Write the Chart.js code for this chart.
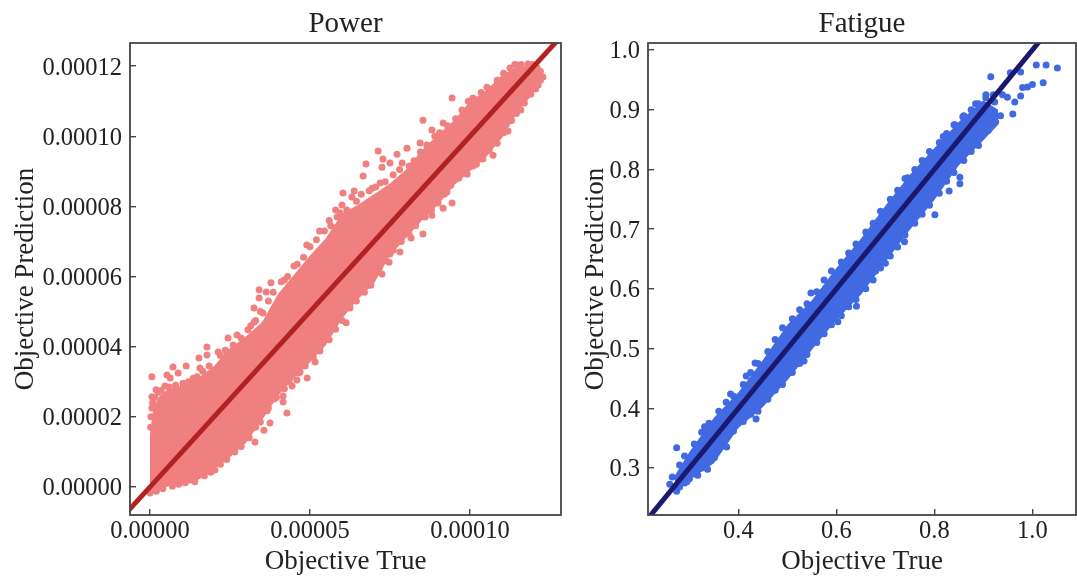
<!DOCTYPE html>
<html>
<head>
<meta charset="utf-8">
<script src="https://cdn.jsdelivr.net/npm/chart.js@4"></script>
<style>
html,body{margin:0;padding:0;background:#fff;overflow:hidden;width:1077px;height:581px}
canvas{position:absolute;top:0}
</style>
</head>
<body>
<canvas id="left" width="570" height="581" style="left:0;width:570px;height:581px"></canvas>
<canvas id="right" width="510" height="581" style="left:570px;width:510px;height:581px"></canvas>
<script>
// Power panel, values in units of 1e-5
const POWER_UNIT = 1e-5;
const powerBandX = [0,0.1,0.3,0.5,1,1.5,2,2.5,3,3.5,4,4.5,5,5.5,6,6.5,7,7.5,8,8.5,9,9.5,10,10.5,11,11.5,12,12.3];
const powerBandHigh = [1.5,2.25,2.6,2.75,2.9,3.1,3.45,3.95,4.3,4.7,5.5,6.05,6.6,7.1,7.8,8.05,8.35,8.65,9.05,9.6,10.05,10.45,11.0,11.3,11.75,12.0,12.0,11.75];
const powerBandLow = [-0.08,-0.1,-0.1,0,0.1,0.2,0.5,0.85,1.25,1.9,2.6,3.1,3.55,4.05,4.8,5.35,5.8,6.6,7.1,7.6,8.05,8.6,9.0,9.4,9.95,10.7,11.25,11.7];
const powerOuterTrue = [0.06,0.06,0.06,0.19,0.47,0.72,1.13,0.88,0.53,0.63,1.03,1.47,1.53,1.78,1.78,1.56,2.13,2.41,2.44,2.72,3.06,3.25,3.25,3.41,3.41,3.78,3.63,3.53,
0,1.25,2.03,2.38,3.28,3.56,3.75,3.38,4.28,3.66,4.16,4.16,3.88,4.91,5.16,4.44,4.59,5.31,4.69,5.41,6.13,2.72,2.97,
9.44,8.53,8.03,7.13,7.72,6.75,7.28,7.5,6.66,7.25,7.88,6.03,6.38,6.31,6.0,5.94,6.94,7.19,8.44,9.16,8.81,
9.44,8.81,9.16,9.28,8.53,8.16,7.81,7.5,7.47,7.25,7.03,11.19,11.59,10.72,10.09,9.91,9.53,12.28,12.13,11.47,11.81,10.53,10.09,
4.2,4.5,4.9,5.3,5.6,5.8];
const powerOuterPred = [3.14,2.57,2.25,2.77,2.88,3.42,3.45,3.25,3.19,3.11,2.96,3.14,3.68,3.99,3.76,3.39,3.85,3.85,4.25,4.33,4.48,5.10,4.70,5.62,5.39,5.82,5.56,4.96,
-0.17,0.2,0.48,0.8,1.28,1.62,1.82,1.91,2.11,2.17,2.42,2.59,2.51,3.11,3.56,2.88,3.05,3.88,3.28,4.25,4.68,1.25,1.60,
11.09,10.46,9.66,9.58,9.49,9.21,9.35,9.24,8.87,9.12,9.24,8.38,8.44,8.27,8.04,7.81,8.52,8.67,9.81,10.38,10.18,
8.10,7.75,7.95,8.41,7.21,7.10,6.70,6.64,6.41,6.07,6.13,10.15,10.75,9.46,9.15,8.92,8.78,11.69,11.46,12.03,12.06,11.4,11.09,
5.9,6.3,6.9,7.3,7.6,7.9];
const powerUpperTrue = [0.02,0.03,0.08,0.15,0.25,0.35,0.6,0.8,1.2,1.35,1.65,1.85,2.2,2.35,2.6,2.85,3.15,3.3,3.45,3.7,3.85,4.1,4.3,4.6,4.8,5.0,5.2,5.45,5.65,5.85,6.15,6.45,6.6,6.85,7.05,7.35,7.6,7.8,8.1,8.25,8.45,8.65,8.9,9.05,9.3,9.55,9.75,9.95,10.15,10.35,10.6,10.85,11.05,11.25,11.4,11.6,11.95,12.1,12.2];
const powerUpperPred = [1.7,2.0,2.4,2.55,2.7,2.75,2.85,2.9,3.0,3.1,3.3,3.45,3.75,3.9,4.05,4.25,4.6,4.75,5.0,5.3,5.55,5.85,6.0,6.35,6.55,6.85,7.05,7.3,7.45,7.7,7.9,8.15,8.35,8.45,8.55,8.7,8.9,9.05,9.15,9.3,9.55,9.75,10.0,10.1,10.3,10.5,10.75,11.0,11.05,11.25,11.35,11.6,11.8,11.95,12.05,12.05,12.05,11.95,11.85];
const powerLowerTrue = [0.05,0.2,0.4,0.7,0.9,1.1,1.4,1.7,1.9,2.2,2.4,2.65,2.85,3.1,3.3,3.45,3.7,3.95,4.2,4.35,4.65,4.85,5.1,5.3,5.6,5.8,6.0,6.25,6.45,6.7,6.9,7.15,7.35,7.6,7.85,8.1,8.3,8.6,8.8,9.0,9.2,9.4,9.65,9.8,10.2,10.4,10.6,10.85,11.05,11.3,11.45,11.7,11.9,12.05,12.2];
const powerLowerPred = [-0.1,-0.12,-0.05,0.02,0.08,0.12,0.15,0.32,0.42,0.65,0.78,1.0,1.15,1.4,1.7,1.85,2.25,2.55,2.8,3.0,3.25,3.45,3.7,3.95,4.2,4.5,4.75,5.1,5.3,5.55,5.75,6.2,6.45,6.75,7.0,7.2,7.45,7.7,7.9,8.1,8.35,8.6,8.8,8.95,9.2,9.35,9.6,9.8,10.1,10.45,10.65,10.95,11.2,11.35,11.6];
const powerDiagonal = [-0.8,12.7];
const powerXTicks = [0,5,10];
const powerYTicks = [0,2,4,6,8,10,12];

// Fatigue panel
const fatigueBandX = [0.27,0.3,0.35,0.4,0.45,0.5,0.55,0.6,0.65,0.7,0.75,0.8,0.85,0.9,0.93];
const fatigueBandHigh = [0.287,0.327,0.384,0.427,0.481,0.54,0.581,0.635,0.684,0.739,0.791,0.836,0.88,0.916,0.90];
const fatigueBandLow = [0.263,0.28,0.308,0.367,0.402,0.447,0.498,0.548,0.59,0.645,0.699,0.749,0.807,0.849,0.875];
const fatigueOuterTrue = [0.274,0.26,0.274,0.295,0.3,0.317,0.337,0.351,0.376,0.436,0.331,0.384,0.434,0.534,0.603,0.641,0.548,0.416,
0.801,0.83,0.852,0.852,0.745,0.915,1.008,1.028,1.051,1.022,1.0,0.99,0.98,0.976,0.964,0.96,0.949,0.939,0.905,0.884,0.955,0.976,0.923,0.858,0.842,0.818,0.68,0.7,0.739];
const fatigueOuterPred = [0.334,0.273,0.261,0.277,0.282,0.288,0.298,0.317,0.335,0.382,0.369,0.424,0.476,0.479,0.545,0.571,0.593,0.454,
0.724,0.764,0.776,0.787,0.786,0.955,0.975,0.975,0.97,0.945,0.942,0.938,0.937,0.923,0.913,0.893,0.921,0.925,0.925,0.91,0.962,0.963,0.913,0.888,0.875,0.855,0.63,0.643,0.679];
const fatigueUpperTrue = [0.265,0.28,0.29,0.31,0.325,0.34,0.36,0.375,0.39,0.41,0.425,0.44,0.46,0.475,0.49,0.51,0.525,0.54,0.56,0.575,0.59,0.61,0.625,0.64,0.66,0.675,0.69,0.71,0.725,0.74,0.76,0.775,0.79,0.81,0.825,0.84,0.86,0.875,0.89,0.905,0.92];
const fatigueUpperPred = [0.285,0.305,0.32,0.34,0.36,0.375,0.395,0.41,0.42,0.44,0.46,0.475,0.495,0.515,0.535,0.55,0.565,0.575,0.595,0.615,0.63,0.645,0.66,0.675,0.695,0.71,0.73,0.75,0.765,0.785,0.80,0.815,0.83,0.845,0.86,0.875,0.89,0.90,0.91,0.92,0.925];
const fatigueLowerTrue = [0.28,0.29,0.31,0.325,0.34,0.36,0.375,0.39,0.41,0.425,0.44,0.46,0.475,0.49,0.51,0.525,0.54,0.56,0.575,0.59,0.61,0.625,0.64,0.66,0.675,0.69,0.71,0.725,0.74,0.76,0.775,0.79,0.81,0.825,0.84,0.86,0.875,0.89,0.91,0.925,0.935];
const fatigueLowerPred = [0.268,0.275,0.29,0.30,0.312,0.335,0.35,0.362,0.378,0.39,0.395,0.415,0.43,0.44,0.46,0.475,0.49,0.51,0.525,0.54,0.555,0.57,0.582,0.60,0.615,0.635,0.655,0.67,0.69,0.71,0.725,0.74,0.76,0.78,0.795,0.815,0.83,0.84,0.865,0.88,0.89];
const fatigueDiagonal = [0.2,1.05];
const fatigueXTicks = [0.4,0.6,0.8,1.0];
const fatigueYTicks = [0.3,0.4,0.5,0.6,0.7,0.8,0.9,1.0];

const SERIF = "'Liberation Serif','DejaVu Serif',serif";
const frame = {
  id:'frame',
  afterDatasetsDraw(c){
    const a=c.chartArea, g=c.ctx;
    g.save(); g.strokeStyle='#444'; g.lineWidth=1.8;
    g.strokeRect(a.left,a.top,a.right-a.left,a.bottom-a.top);
    g.restore();
  }
};

function panel(id,o){
  const pts=(xs,ys)=>xs.map((x,i)=>({x:x*o.unit,y:ys[i]*o.unit}));
  new Chart(document.getElementById(id),{
    type:'scatter',
    plugins:[frame],
    data:{datasets:[
      {data:o.diag.map(v=>({x:v*o.unit,y:v*o.unit})),showLine:true,borderColor:o.lineColor,borderWidth:5,pointRadius:0,order:0},
      {data:pts(o.xs,o.ys).concat(pts(o.ux,o.uy),pts(o.lx,o.ly)),backgroundColor:o.color,borderWidth:0,pointRadius:3.5,order:1},
      {data:pts(o.bx,o.bh),showLine:true,borderWidth:0,borderColor:o.color,backgroundColor:o.color,pointRadius:0,fill:'+1',order:2},
      {data:pts(o.bx,o.bl),showLine:true,borderWidth:0,borderColor:o.color,pointRadius:0,fill:false,order:3}
    ]},
    options:{
      responsive:false,animation:false,
      layout:{padding:{right:o.padRight,top:0,bottom:0,left:0}},
      plugins:{legend:{display:false},tooltip:{enabled:false},
        title:{display:true,fullSize:false,text:o.title,color:'#222',font:{family:SERIF,size:29,weight:'normal',lineHeight:1},padding:{top:10,bottom:4}}},
      scales:{
        x:{type:'linear',min:o.xr[0]*o.unit,max:o.xr[1]*o.unit,
          afterBuildTicks(s){s.ticks=o.xt.map(v=>({value:v*o.unit}));},
          afterFit(s){s.height=66;},
          border:{display:false},
          grid:{drawOnChartArea:false,tickLength:-6,color:'#444',lineWidth:1.4},
          ticks:{includeBounds:false,autoSkip:false,maxRotation:0,padding:8,color:'#222',font:{family:SERIF,size:24.5},callback:v=>o.fmt(v)},
          title:{display:true,text:'Objective True',color:'#222',font:{family:SERIF,size:27},padding:{top:0,bottom:3}}},
        y:{type:'linear',min:o.yr[0]*o.unit,max:o.yr[1]*o.unit,
          afterBuildTicks(s){s.ticks=o.yt.map(v=>({value:v*o.unit}));},
          afterFit(s){s.width=o.yw;},
          afterUpdate(s){
            if(s._shifted) return; s._shifted=true;
            const f=s._computeLabelItems.bind(s);
            s._computeLabelItems=a=>f(a).map(i=>{i.options.translation=[i.options.translation[0],i.options.translation[1]+2];return i;});
          },
          border:{display:false},
          grid:{drawOnChartArea:false,tickLength:-6,color:'#444',lineWidth:1.4},
          ticks:{includeBounds:false,autoSkip:false,padding:14,color:'#222',font:{family:SERIF,size:24.5},callback:v=>o.fmt(v)},
          title:{display:true,text:'Objective Prediction',color:'#222',font:{family:SERIF,size:27},padding:{top:10,bottom:0}}}
      }
    }
  });
}

panel('left',{unit:POWER_UNIT,title:'Power',color:'#f08080',lineColor:'#b22222',
  xs:powerOuterTrue,ys:powerOuterPred,ux:powerUpperTrue,uy:powerUpperPred,lx:powerLowerTrue,ly:powerLowerPred,
  bx:powerBandX,bh:powerBandHigh,bl:powerBandLow,diag:powerDiagonal,
  xt:powerXTicks,yt:powerYTicks,xr:[-0.625,12.844],yr:[-0.8,12.66],
  yw:130,padRight:9,fmt:v=>v.toFixed(5)});
panel('right',{unit:1,title:'Fatigue',color:'#4169e1',lineColor:'#191970',
  xs:fatigueOuterTrue,ys:fatigueOuterPred,ux:fatigueUpperTrue,uy:fatigueUpperPred,lx:fatigueLowerTrue,ly:fatigueLowerPred,
  bx:fatigueBandX,bh:fatigueBandHigh,bl:fatigueBandLow,diag:fatigueDiagonal,
  xt:fatigueXTicks,yt:fatigueYTicks,xr:[0.2155,1.089],yr:[0.2213,1.0117],
  yw:78,padRight:1,fmt:v=>v.toFixed(1)});
</script>
</body>
</html>
